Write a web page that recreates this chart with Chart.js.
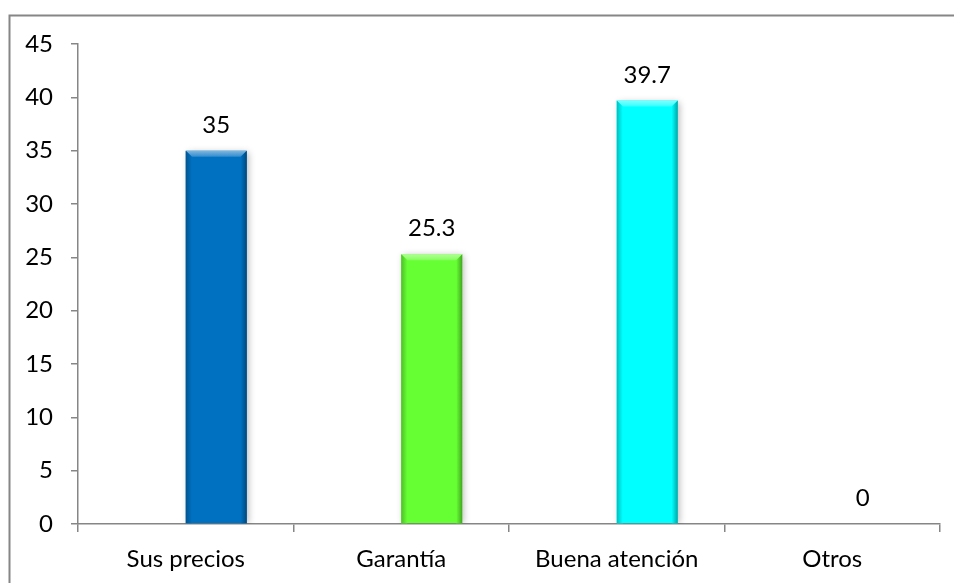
<!DOCTYPE html>
<html>
<head>
<meta charset="utf-8">
<script src="https://cdn.jsdelivr.net/npm/chart.js@4.4.1/dist/chart.umd.min.js"></script>
<style>
  html, body { margin: 0; padding: 0; background: #fff; }
</style>
</head>
<body>
<canvas id="grafico" width="954" height="583"></canvas>
<script>
// datos
const categorias = ["Sus precios", "Garantía", "Buena atención", "Otros"];
const porcentajes = [35, 25.3, 39.7, 0];
const serieVacia = [null, null, null, null];
const escalaY = { min: 0, max: 45, paso: 5 };

const colores = ["#0070C0", "#66FF33", "#00FFFF", "#FF0000"];
const gris = "#868686";
const fuente = { family: "Lato", size: 24 };

// aclara (f > 0) u oscurece (f < 0) un color hex
function tono(hex, f) {
  const n = parseInt(hex.slice(1), 16);
  const rgb = [n >> 16, (n >> 8) & 255, n & 255].map(c =>
    f >= 0 ? Math.round(c + (255 - c) * f) : Math.round(c * (1 + f)));
  return `rgb(${rgb.join(",")})`;
}

// marco gris alrededor del gráfico
const marco = {
  id: "marco",
  beforeDraw(chart) {
    const ctx = chart.ctx;
    ctx.save();
    ctx.fillStyle = "#fff";
    ctx.fillRect(0, 0, chart.width, chart.height);
    ctx.strokeStyle = gris;
    ctx.lineWidth = 2;
    ctx.strokeRect(9.5, 15.5, chart.width + 20, chart.height + 20);
    ctx.restore();
  }
};

// sombra suave + bisel de las columnas
const bisel = {
  id: "bisel",
  beforeDatasetDraw(chart, args) {
    if (args.index !== 1) return;
    const ctx = chart.ctx;
    ctx.save();
    ctx.shadowColor = "rgba(0,0,0,0.28)";
    ctx.shadowBlur = 7;
    ctx.shadowOffsetX = 2;
    ctx.shadowOffsetY = 1;
  },
  afterDatasetDraw(chart, args) {
    if (args.index !== 1) return;
    const ctx = chart.ctx;
    ctx.restore();
    args.meta.data.forEach((barra, i) => {
      if (!porcentajes[i]) return;
      const { x, y, base, width } = barra.getProps(["x", "y", "base", "width"], true);
      const l = x - width / 2, r = x + width / 2, b = 6;
      const c = colores[i];
      ctx.save();
      // cara superior
      let g = ctx.createLinearGradient(0, y, 0, y + b);
      g.addColorStop(0, tono(c, 0.5));
      g.addColorStop(1, tono(c, 0.2));
      ctx.fillStyle = g;
      ctx.beginPath();
      ctx.moveTo(l, y); ctx.lineTo(r, y); ctx.lineTo(r - b, y + b); ctx.lineTo(l + b, y + b);
      ctx.closePath(); ctx.fill();
      // cara izquierda
      g = ctx.createLinearGradient(l, 0, l + b, 0);
      g.addColorStop(0, tono(c, -0.25));
      g.addColorStop(1, c);
      ctx.fillStyle = g;
      ctx.beginPath();
      ctx.moveTo(l, y); ctx.lineTo(l + b, y + b); ctx.lineTo(l + b, base); ctx.lineTo(l, base);
      ctx.closePath(); ctx.fill();
      // cara derecha
      g = ctx.createLinearGradient(r - b, 0, r, 0);
      g.addColorStop(0, c);
      g.addColorStop(1, tono(c, -0.35));
      ctx.fillStyle = g;
      ctx.beginPath();
      ctx.moveTo(r, y); ctx.lineTo(r - b, y + b); ctx.lineTo(r - b, base); ctx.lineTo(r, base);
      ctx.closePath(); ctx.fill();
      ctx.restore();
    });
  }
};

// valor encima de cada columna
const etiquetas = {
  id: "etiquetas",
  afterDatasetsDraw(chart) {
    const ctx = chart.ctx;
    const meta = chart.getDatasetMeta(1);
    ctx.save();
    ctx.font = `${fuente.size}px ${fuente.family}`;
    ctx.fillStyle = "#000";
    ctx.textAlign = "center";
    ctx.textBaseline = "alphabetic";
    meta.data.forEach((barra, i) => {
      ctx.fillText(String(porcentajes[i]), barra.x, barra.y - 18);
    });
    ctx.restore();
  }
};

new Chart(document.getElementById("grafico"), {
  type: "bar",
  data: {
    labels: categorias,
    datasets: [
      { data: serieVacia, backgroundColor: "transparent" },
      { data: porcentajes, backgroundColor: colores, borderWidth: 0 }
    ]
  },
  options: {
    responsive: false,
    animation: false,
    devicePixelRatio: 1,
    categoryPercentage: 0.566,
    barPercentage: 1,
    layout: { padding: { top: 44, right: 14, left: 0, bottom: 0 } },
    plugins: { legend: { display: false }, tooltip: { enabled: false } },
    scales: {
      x: {
        grid: { offset: true, drawOnChartArea: false, color: gris, tickLength: 8, lineWidth: 1.5 },
        border: { color: gris, width: 1.5 },
        ticks: { color: "#000", font: fuente, padding: 13, maxRotation: 0 },
        afterFit(scale) { scale.height = 59; }
      },
      y: {
        min: escalaY.min,
        max: escalaY.max,
        grid: { drawOnChartArea: false, color: gris, tickLength: 7, lineWidth: 1.5 },
        border: { color: gris, width: 1.5 },
        ticks: { stepSize: escalaY.paso, color: "#000", font: fuente, padding: 18 },
        afterFit(scale) { scale.width = 78; }
      }
    }
  },
  plugins: [marco, bisel, etiquetas]
});
</script>
</body>
</html>
